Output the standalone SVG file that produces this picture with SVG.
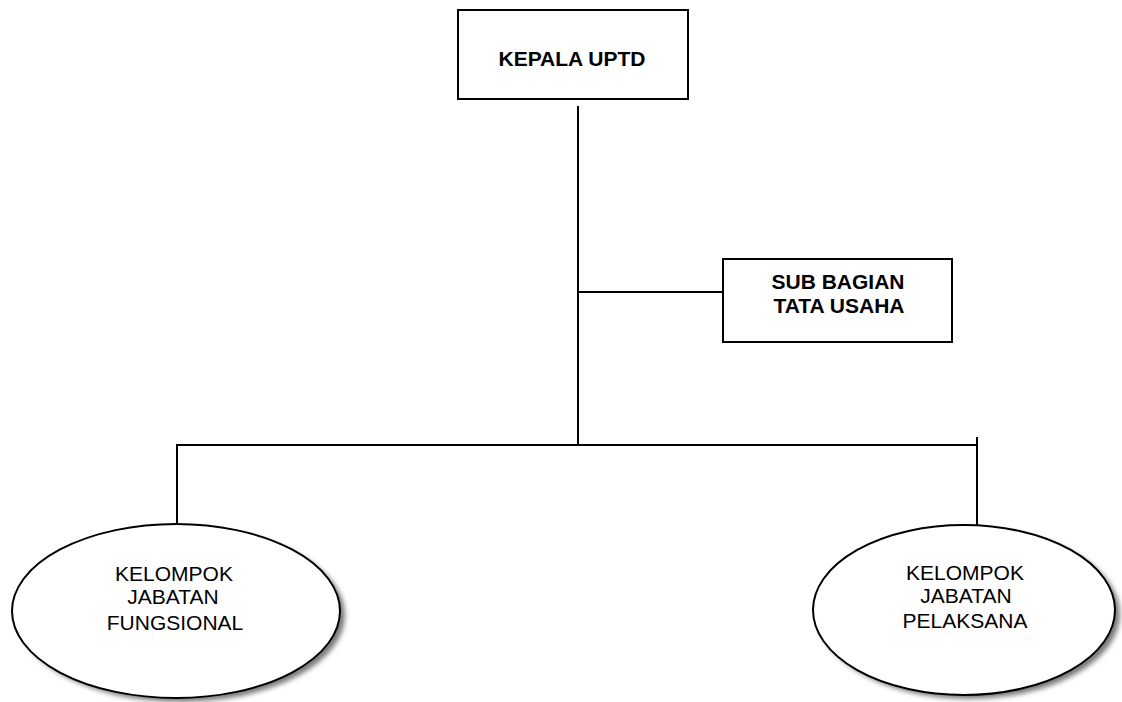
<svg xmlns="http://www.w3.org/2000/svg" width="1122" height="702" viewBox="0 0 1122 702">
<defs>
<filter id="sh" x="-20%" y="-20%" width="140%" height="140%">
<feGaussianBlur stdDeviation="2.5"/>
</filter>
</defs>
<style>
.box{fill:#fff;stroke:#000;stroke-width:2}
.ell{fill:#fff;stroke:#000;stroke-width:2}
.shadow{fill:#7a7a7a;stroke:none;filter:url(#sh)}
.ln{stroke:#000;stroke-width:2;fill:none}
.b{font-family:"Liberation Sans",Arial,sans-serif;font-weight:bold;font-size:21px;fill:#000;text-anchor:middle}
.r{font-family:"Liberation Sans",Arial,sans-serif;font-size:21px;fill:#000;text-anchor:middle}
</style>
<rect width="1122" height="702" fill="#fff"/>
<g id="connectors">
<line class="ln" x1="578" y1="106" x2="578" y2="446"/>
<line class="ln" x1="578" y1="292" x2="723" y2="292"/>
<line class="ln" x1="177" y1="445" x2="978" y2="445"/>
<line class="ln" x1="177" y1="444" x2="177" y2="524"/>
<line class="ln" x1="977" y1="437" x2="977" y2="526"/>
</g>
<g id="kepala">
<rect class="box" x="458" y="10" width="230" height="89"/>
<text class="b" x="572" y="66">KEPALA UPTD</text>
</g>
<g id="subbagian">
<rect class="box" x="723" y="259" width="229" height="83"/>
<text class="b" x="838" y="289">SUB BAGIAN</text>
<text class="b" x="839" y="313">TATA USAHA</text>
</g>
<g id="fungsional">
<ellipse class="shadow" cx="181" cy="615" rx="164" ry="87"/>
<ellipse class="ell" cx="176" cy="611" rx="164" ry="87"/>
<text class="r" x="174" y="581">KELOMPOK</text>
<text class="r" x="173" y="604">JABATAN</text>
<text class="r" x="175" y="630">FUNGSIONAL</text>
</g>
<g id="pelaksana">
<ellipse class="shadow" cx="969" cy="614" rx="151" ry="85"/>
<ellipse class="ell" cx="964" cy="610" rx="151" ry="85"/>
<text class="r" x="965" y="580">KELOMPOK</text>
<text class="r" x="966" y="603">JABATAN</text>
<text class="r" x="965" y="628">PELAKSANA</text>
</g>
</svg>
